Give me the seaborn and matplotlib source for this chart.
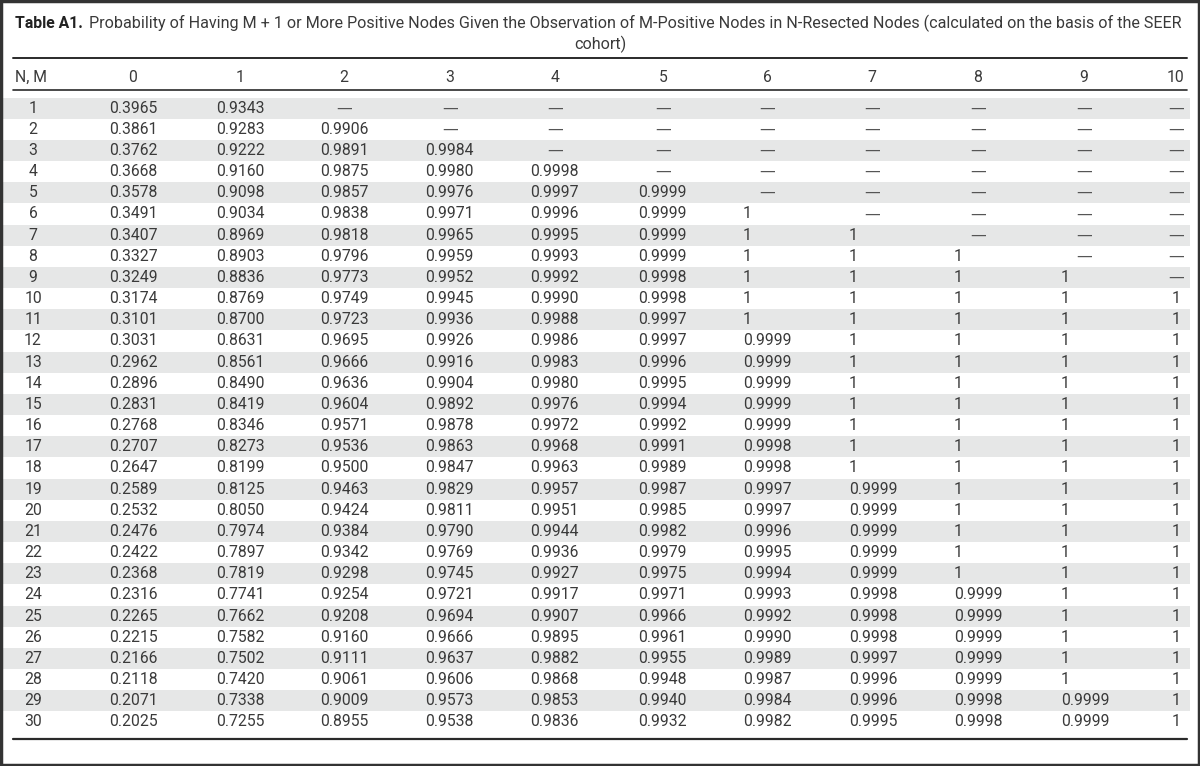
import matplotlib
matplotlib.use("Agg")
import matplotlib.pyplot as plt
from matplotlib.colors import ListedColormap
from matplotlib.lines import Line2D
from matplotlib.patches import Rectangle
from matplotlib.transforms import blended_transform_factory
import numpy as np
import pandas as pd
import seaborn as sns

sns.set_theme(style="white")
plt.rcParams['font.family'] = ['Roboto', 'DejaVu Sans']

# --- table content
title_bold = "Table A1."
title_text = ("Probability of Having M + 1 or More Positive Nodes Given the Observation of "
              "M-Positive Nodes in N-Resected Nodes (calculated on the basis of the SEER")
title_wrap = "cohort)"
corner_label = "N, M"

n_resected = list(range(1, 31))
m_positive = list(range(0, 11))

p_m0 = [0.3965, 0.3861, 0.3762, 0.3668, 0.3578, 0.3491, 0.3407, 0.3327, 0.3249, 0.3174,
        0.3101, 0.3031, 0.2962, 0.2896, 0.2831, 0.2768, 0.2707, 0.2647, 0.2589, 0.2532,
        0.2476, 0.2422, 0.2368, 0.2316, 0.2265, 0.2215, 0.2166, 0.2118, 0.2071, 0.2025]
p_m1 = [0.9343, 0.9283, 0.9222, 0.9160, 0.9098, 0.9034, 0.8969, 0.8903, 0.8836, 0.8769,
        0.8700, 0.8631, 0.8561, 0.8490, 0.8419, 0.8346, 0.8273, 0.8199, 0.8125, 0.8050,
        0.7974, 0.7897, 0.7819, 0.7741, 0.7662, 0.7582, 0.7502, 0.7420, 0.7338, 0.7255]
p_m2 = [None, 0.9906, 0.9891, 0.9875, 0.9857, 0.9838, 0.9818, 0.9796, 0.9773, 0.9749,
        0.9723, 0.9695, 0.9666, 0.9636, 0.9604, 0.9571, 0.9536, 0.9500, 0.9463, 0.9424,
        0.9384, 0.9342, 0.9298, 0.9254, 0.9208, 0.9160, 0.9111, 0.9061, 0.9009, 0.8955]
p_m3 = [None, None, 0.9984, 0.9980, 0.9976, 0.9971, 0.9965, 0.9959, 0.9952, 0.9945,
        0.9936, 0.9926, 0.9916, 0.9904, 0.9892, 0.9878, 0.9863, 0.9847, 0.9829, 0.9811,
        0.9790, 0.9769, 0.9745, 0.9721, 0.9694, 0.9666, 0.9637, 0.9606, 0.9573, 0.9538]
p_m4 = [None, None, None, 0.9998, 0.9997, 0.9996, 0.9995, 0.9993, 0.9992, 0.9990,
        0.9988, 0.9986, 0.9983, 0.9980, 0.9976, 0.9972, 0.9968, 0.9963, 0.9957, 0.9951,
        0.9944, 0.9936, 0.9927, 0.9917, 0.9907, 0.9895, 0.9882, 0.9868, 0.9853, 0.9836]
p_m5 = [None, None, None, None, 0.9999, 0.9999, 0.9999, 0.9999, 0.9998, 0.9998,
        0.9997, 0.9997, 0.9996, 0.9995, 0.9994, 0.9992, 0.9991, 0.9989, 0.9987, 0.9985,
        0.9982, 0.9979, 0.9975, 0.9971, 0.9966, 0.9961, 0.9955, 0.9948, 0.9940, 0.9932]
p_m6 = [None, None, None, None, None, 1, 1, 1, 1, 1,
        1, 0.9999, 0.9999, 0.9999, 0.9999, 0.9999, 0.9998, 0.9998, 0.9997, 0.9997,
        0.9996, 0.9995, 0.9994, 0.9993, 0.9992, 0.9990, 0.9989, 0.9987, 0.9984, 0.9982]
p_m7 = [None, None, None, None, None, None, 1, 1, 1, 1,
        1, 1, 1, 1, 1, 1, 1, 1, 0.9999, 0.9999,
        0.9999, 0.9999, 0.9999, 0.9998, 0.9998, 0.9998, 0.9997, 0.9996, 0.9996, 0.9995]
p_m8 = [None, None, None, None, None, None, None, 1, 1, 1,
        1, 1, 1, 1, 1, 1, 1, 1, 1, 1,
        1, 1, 1, 0.9999, 0.9999, 0.9999, 0.9999, 0.9999, 0.9998, 0.9998]
p_m9 = [None, None, None, None, None, None, None, None, 1, 1,
        1, 1, 1, 1, 1, 1, 1, 1, 1, 1,
        1, 1, 1, 1, 1, 1, 1, 1, 0.9999, 0.9999]
p_m10 = [None, None, None, None, None, None, None, None, None, 1,
         1, 1, 1, 1, 1, 1, 1, 1, 1, 1,
         1, 1, 1, 1, 1, 1, 1, 1, 1, 1]

columns = [p_m0, p_m1, p_m2, p_m3, p_m4, p_m5, p_m6, p_m7, p_m8, p_m9, p_m10]

# --- layout (pixels)
W, H = 1200, 766
col_center = [133, 240, 344, 450, 555, 663, 767, 872, 978, 1084, 1176]
col_left = [109, 216, 320, 425, 530, 638, 743, 849, 954, 1061, None]
label_x = 33
text_color = "#3a3a3a"
stripe_color = "#e6e7e7"
fs = 11.3


def fx(px):
    return px / W


def fy(py):
    return 1 - py / H


fig = plt.figure(figsize=(W / 100, H / 100), dpi=100)
fig.patch.set_facecolor("white")

# body stripes drawn as a one-column heatmap
body_top, body_bot = 97.5, 732.5
ax = fig.add_axes([fx(2), fy(body_bot), fx(1190) - fx(2), (body_bot - body_top) / H])
stripes = pd.DataFrame({"shade": [i % 2 for i in range(len(n_resected))]}, index=n_resected)
sns.heatmap(stripes, cmap=ListedColormap([stripe_color, "white"]), vmin=0, vmax=1,
            cbar=False, xticklabels=False, yticklabels=False, ax=ax)
ax.set_axis_off()

tr = blended_transform_factory(fig.transFigure, ax.transData)
for i, n in enumerate(n_resected):
    y = i + 0.5
    ax.text(fx(label_x), y, str(n), transform=tr, ha="center", va="center",
            fontsize=fs, color=text_color)
    for j, col in enumerate(columns):
        v = col[i]
        if v is None:
            # empty cell: em dash
            ax.text(fx(col_center[j]), y, "\u2014", transform=tr, ha="center", va="center",
                    fontsize=fs, color="#555555", family="DejaVu Sans")
        elif col_left[j] is None:
            ax.text(fx(col_center[j]), y, "1" if v == 1 else f"{v:.4f}", transform=tr,
                    ha="center", va="center", fontsize=fs, color=text_color)
        else:
            ax.text(fx(col_left[j]), y, "1" if v == 1 else f"{v:.4f}", transform=tr,
                    ha="left", va="center", fontsize=fs, color=text_color)

# header row
hy = 77
fig.text(fx(15), fy(hy), corner_label, ha="left", va="center", fontsize=fs,
         color=text_color)
for j, m in enumerate(m_positive):
    fig.text(fx(col_center[j]), fy(hy), str(m), ha="center", va="center", fontsize=fs,
             color=text_color)

# title, fitted to the table width
renderer = fig.canvas.get_renderer()
tb = fig.text(fx(15), fy(23), title_bold, ha="left", va="center", fontsize=fs,
              fontweight="bold", color="#222222")
bb = tb.get_window_extent(renderer)
tt = fig.text(fx(15) + (bb.width + 6) / W, fy(23), title_text, ha="left", va="center",
              fontsize=fs, color=text_color)
tw = tt.get_window_extent(renderer).width
tt.set_fontsize(tt.get_fontsize() * (1185 - 15 - bb.width - 6) / tw)
fig.text(0.5, fy(44), title_wrap, ha="center", va="center", fontsize=tt.get_fontsize(),
         color=text_color)

# rules
for py, lw in [(58, 1.4), (90, 1.2), (739, 1.6)]:
    fig.add_artist(Line2D([fx(13), fx(1187)], [fy(py), fy(py)], color="#2a2a2a", lw=lw))

fig.add_artist(Rectangle((0.001, 0.001), 0.998, 0.998, transform=fig.transFigure,
                         fill=False, edgecolor="#333333", lw=2.5))

fig.savefig("out.png", dpi=100)
